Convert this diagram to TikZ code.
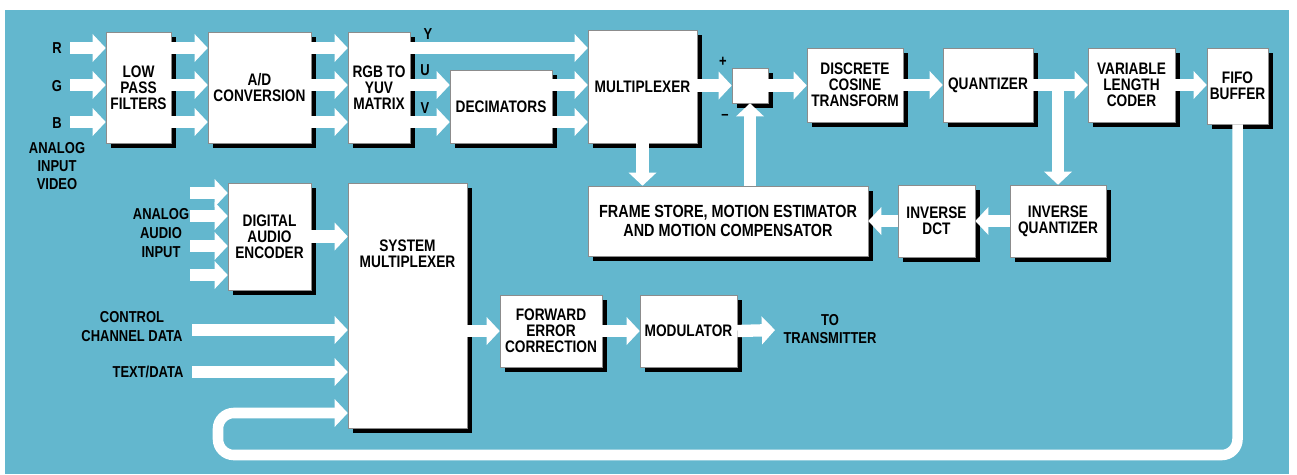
\documentclass[tikz,border=0pt]{standalone}
\usepackage{fontspec}
\setmainfont{Liberation Sans}[FakeStretch=0.82]
\usetikzlibrary{arrows.meta, positioning, shadows, calc}
\definecolor{panelblue}{RGB}{99,183,206}

\begin{document}
\begin{tikzpicture}[
	x=0.02cm,
	y=-0.02cm,
	font=\bfseries\fontsize{9.5}{9}\selectfont,
	blk/.style={draw=black!45, line width=0.3pt, fill=white, align=center, inner sep=1pt,
		drop shadow={shadow xshift=2.6pt, shadow yshift=-2.6pt, fill=black, opacity=1}},
	flow/.style={white, line width=7pt, -{Triangle[length=7.5pt, width=15.5pt]}},
	lbl/.style={align=center, inner sep=0pt, font=\bfseries\fontsize{9}{10}\selectfont}
	]
	
	% --------------------------------------------------
	% Page and panel
	% --------------------------------------------------
	\useasboundingbox (0,0) rectangle (1297,474);
	\fill[white] (0,0) rectangle (1297,474);
	\fill[panelblue] (5,10) rectangle (1289,474);
	
	% ==================================================
	% Video chain
	% ==================================================
	\node[blk, minimum width=1.3cm, minimum height=2.22cm] (lpf) at (138.5,87.5) {LOW\\PASS\\FILTERS};
	\node[blk, minimum width=2.06cm, minimum height=2.22cm] (adc) at (259.5,87.5) {A/D\\CONVERSION};
	\node[blk, minimum width=1.24cm, minimum height=2.22cm] (rgb) at (379,87.5) {RGB TO\\YUV\\MATRIX};
	\node[blk, minimum width=2.04cm, minimum height=1.46cm] (dec) at (501,106.5) {DECIMATORS};
	\node[blk, minimum width=2.18cm, minimum height=2.26cm] (mux) at (642.5,86.5) {MULTIPLEXER};
	\node[blk, minimum width=0.72cm, minimum height=0.70cm] (sum) at (750,85.5) {};
	\node[blk, minimum width=1.92cm, minimum height=1.48cm] (dct) at (855,85) {DISCRETE\\COSINE\\TRANSFORM};
	\node[blk, minimum width=1.8cm, minimum height=1.48cm] (quan) at (988,85) {QUANTIZER};
	\node[blk, minimum width=1.74cm, minimum height=1.48cm] (vlc) at (1131.5,85) {VARIABLE\\LENGTH\\CODER};
	\node[blk, minimum width=1.22cm, minimum height=1.52cm] (fifo) at (1237.5,86) {FIFO\\BUFFER};
	
	% prediction loop
	\node[blk, minimum width=1.92cm, minimum height=1.44cm] (iq) at (1058,221) {INVERSE\\QUANTIZER};
	\node[blk, minimum width=1.54cm, minimum height=1.44cm] (idct) at (936.5,221) {INVERSE\\DCT};
	\node[blk, minimum width=5.6cm, minimum height=1.4cm, font=\bfseries\fontsize{10}{10.5}\selectfont]
	(fs) at (728,221) {FRAME STORE, MOTION ESTIMATOR\\AND MOTION COMPENSATOR};
	
	% ==================================================
	% Audio, data and output chain
	% ==================================================
	\node[blk, minimum width=1.66cm, minimum height=2.14cm] (dae) at (269.5,236.5) {DIGITAL\\AUDIO\\ENCODER};
	\node[blk, minimum width=2.38cm, minimum height=4.9cm] (sysmux) at (407.5,305.5) {};
	\node[align=center, inner sep=0pt] (sysmuxlbl) at ($(sysmux.north)+(0,71)$) {SYSTEM\\MULTIPLEXER};
	\node[blk, minimum width=2.04cm, minimum height=1.44cm] (fec) at (551,331) {FORWARD\\ERROR\\CORRECTION};
	\node[blk, minimum width=1.94cm, minimum height=1.44cm] (mod) at (688.5,331) {MODULATOR};
	
	% free ends
	\coordinate (inR) at (70,48);
	\coordinate (inG) at (70,85);
	\coordinate (inB) at (70,122);
	\coordinate (au1) at (190,193);
	\coordinate (au2) at (190,216);
	\coordinate (au3) at (190,246);
	\coordinate (au4) at (190,275);
	\coordinate (ctrlin) at (192,330);
	\coordinate (textin) at (192,372);
	\coordinate (txout) at (775,330);
	\coordinate (loopL) at (218,455);
	\coordinate (fbin) at (218,413);
	
	% ==================================================
	% Labels
	% ==================================================
	\node[lbl] (labR) at (57,48) {R};
	\node[lbl] (labG) at (57,86) {G};
	\node[lbl] (labB) at (57,123) {B};
	\node[lbl] (vidlbl) at (57,166) {ANALOG\\INPUT\\VIDEO};
	\node[lbl] (labY) at (428,34) {Y};
	\node[lbl] (labU) at (425,70) {U};
	\node[lbl] (labV) at (425,108) {V};
	\node[lbl] (plus) at (723,62) {+};
	\node[lbl] (minus) at (725,117) {--};
	\node[lbl, font=\bfseries\fontsize{9}{11}\selectfont] (audlbl) at (161,233) {ANALOG\\AUDIO\\INPUT};
	\node[lbl, font=\bfseries\fontsize{9}{10.8}\selectfont] (ctrllbl) at (132,327) {CONTROL\\CHANNEL DATA};
	\node[lbl] (textlbl) at (148,372) {TEXT/DATA};
	\node[lbl] (txlbl) at (830,329) {TO\\TRANSMITTER};
	
	% ==================================================
	% Connectors
	% ==================================================
	\draw[flow] (inR) -- (inR -| lpf.west);
	\draw[flow] (inG) -- (inG -| lpf.west);
	\draw[flow] (inB) -- (inB -| lpf.west);
	
	\draw[flow] (lpf.east |- inR) -- (adc.west |- inR);
	\draw[flow] (lpf.east |- inG) -- (adc.west |- inG);
	\draw[flow] (lpf.east |- inB) -- (adc.west |- inB);
	
	\draw[flow] (adc.east |- inR) -- (rgb.west |- inR);
	\draw[flow] (adc.east |- inG) -- (rgb.west |- inG);
	\draw[flow] (adc.east |- inB) -- (rgb.west |- inB);
	
	% Y straight on, U and V through the decimators
	\draw[flow] (rgb.east |- inR) -- (mux.west |- inR);
	\draw[flow] (rgb.east |- inG) -- (dec.west |- inG);
	\draw[flow] (rgb.east |- inB) -- (dec.west |- inB);
	\draw[flow] (dec.east |- inG) -- (mux.west |- inG);
	\draw[flow] (dec.east |- inB) -- (mux.west |- inB);
	
	\draw[flow] (sum.west -| mux.east) -- (sum.west);
	\draw[flow] (sum.east) -- (sum.east -| dct.west);
	\draw[flow] (dct.east) -- (quan.west);
	\draw[flow] (quan.east -| iq.north) -- (iq.north);
	\draw[flow] (quan.east) -- (vlc.west);
	\draw[flow] (vlc.east) -- (vlc.east -| fifo.west);
	
	\draw[flow] (iq.west) -- (idct.east);
	\draw[flow] (idct.west) -- (fs.east);
	\draw[flow] (mux.south) -- (mux.south |- fs.north);
	\draw[flow] (fs.north -| sum.south) -- (sum.south);
	
	\draw[flow] (au1) -- (au1 -| dae.west);
	\draw[flow] (au2) -- (au2 -| dae.west);
	\draw[flow] (au3) -- (au3 -| dae.west);
	\draw[flow] (au4) -- (au4 -| dae.west);
	\draw[flow] (dae.east) -- (dae.east -| sysmux.west);
	\draw[flow] (ctrlin) -- (ctrlin -| sysmux.west);
	\draw[flow] (textin) -- (textin -| sysmux.west);
	
	\draw[flow] (fec.west -| sysmux.east) -- (fec.west);
	\draw[flow] (fec.east) -- (mod.west);
	\draw[flow] (mod.east) -- (txout);
	
	% buffer feedback to the system multiplexer
	\draw[flow, line width=6pt, rounded corners=9pt] (fifo.south) |- (loopL) |- (fbin -| sysmux.west);
	
\end{tikzpicture}
\end{document}
